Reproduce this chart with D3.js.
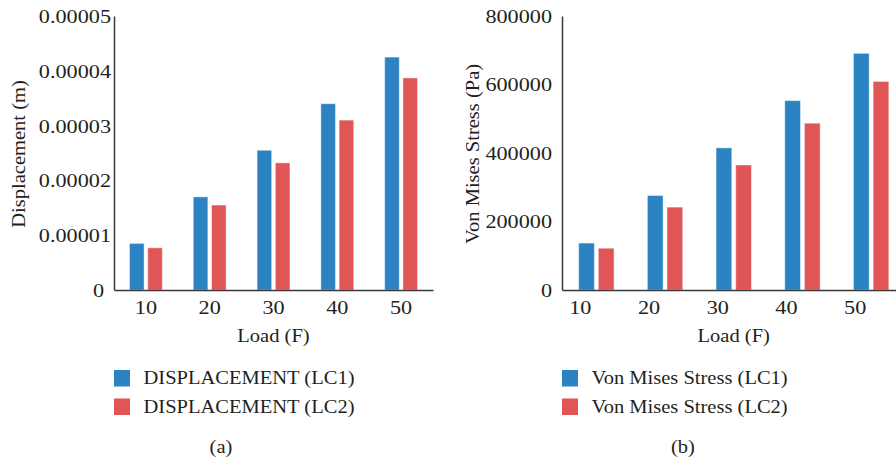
<!DOCTYPE html>
<html>
<head>
<meta charset="utf-8">
<script src="https://cdn.jsdelivr.net/npm/d3@7"></script>
<style>
  body { margin: 0; background: #fff; }
  text { font-family: "Liberation Serif", "Times New Roman", serif; fill: #231f20; }
</style>
</head>
<body>
<div id="chart"></div>
<script>
// data
const loads = [10, 20, 30, 40, 50];
const dispLC1 = [0.0000085, 0.0000170, 0.0000255, 0.0000340, 0.0000425];
const dispLC2 = [0.0000077, 0.0000155, 0.0000232, 0.0000310, 0.0000387];
const stressLC1 = [137000, 276000, 415000, 553000, 691000];
const stressLC2 = [122000, 242000, 365000, 487000, 609000];
const dispTicks = [0, 0.00001, 0.00002, 0.00003, 0.00004, 0.00005];
const dispTickLabels = ["0", "0.00001", "0.00002", "0.00003", "0.00004", "0.00005"];
const stressTicks = [0, 200000, 400000, 600000, 800000];
const stressTickLabels = ["0", "200000", "400000", "600000", "800000"];
const seriesNames = ["LC1", "LC2"];

const colors = ["#2b83c3", "#e05656"];
const fontSize = 19;
const wordStretch = 1.08;   // serif text in the figure is a bit wider than Times
const digitStretch = 1.17;

const W = 896, H = 462;
const svg = d3.select("#chart").append("svg")
    .attr("width", W)
    .attr("height", H);

function drawPanel(p) {
    const g = svg.append("g");

    const xScale = d3.scaleBand()
        .domain(loads)
        .range([p.left, p.right]);

    const yScale = d3.scaleLinear()
        .domain([0, p.yMax])
        .range([290, 16]);

    const pairW = xScale.step() * 0.515;
    const xInner = d3.scaleBand()
        .domain(seriesNames)
        .range([(xScale.step() - pairW) / 2, (xScale.step() + pairW) / 2])
        .paddingInner(0.2);

    // bars
    const rows = loads.map((l, i) => ({load: l, values: [p.s1[i], p.s2[i]]}));
    g.append("g")
        .selectAll("g")
        .data(rows)
        .enter()
        .append("g")
            .attr("transform", d => `translate(${xScale(d.load)},0)`)
        .selectAll("rect")
        .data(d => d.values.map((v, k) => ({k: k, v: v})))
        .enter()
        .append("rect")
            .attr("x", d => xInner(seriesNames[d.k]))
            .attr("width", xInner.bandwidth())
            .attr("y", d => yScale(d.v))
            .attr("height", d => yScale(0) - yScale(d.v))
            .style("fill", d => colors[d.k])
            .style("stroke", "#ffffff")
            .style("stroke-opacity", 0.45)
            .style("stroke-width", 1);

    // y axis
    const yAxis = g.append("g")
        .attr("transform", `translate(${p.left},0)`)
        .call(d3.axisLeft(yScale)
            .tickValues(p.ticks)
            .tickSize(0)
            .tickPadding(0)
            .tickFormat((d, i) => p.tickLabels[i]));
    yAxis.select(".domain").attr("stroke", "#3a3a3a").attr("stroke-width", 1.5);
    yAxis.selectAll("text")
        .attr("x", 0)
        .attr("dy", "0.34em")
        .style("font-size", fontSize + "px")
        .style("font-family", "Liberation Serif")
        .attr("fill", "#231f20")
        .attr("transform", d => `translate(${-p.tickGap - (d === 0 ? p.zeroShift : 0)},0) scale(${digitStretch},1)`);

    // x axis
    const xAxis = g.append("g")
        .attr("transform", "translate(0,290)")
        .call(d3.axisBottom(xScale).tickSize(0).tickPadding(0));
    xAxis.select(".domain").attr("stroke", "#3a3a3a").attr("stroke-width", 1.5);
    xAxis.selectAll("text")
        .attr("y", 0)
        .attr("dy", "0.34em")
        .style("font-size", fontSize + "px")
        .style("font-family", "Liberation Serif")
        .attr("fill", "#231f20")
        .attr("transform", `translate(${p.xLabelShift},17.5) scale(${digitStretch},1)`);

    // axis titles
    const midX = (p.left + p.right) / 2;
    g.append("text")
        .attr("text-anchor", "middle")
        .attr("dy", "0.34em")
        .style("font-size", fontSize + "px")
        .attr("transform", `translate(${midX},336) scale(${wordStretch},1)`)
        .text("Load (F)");

    g.append("text")
        .attr("text-anchor", "middle")
        .attr("dy", "0.34em")
        .style("font-size", fontSize + "px")
        .attr("transform", `translate(${p.yTitleX},154) rotate(-90) scale(${wordStretch},1)`)
        .text(p.yTitle);

    // legend
    const legendY = [378, 406.5];
    p.legend.forEach((name, k) => {
        g.append("rect")
            .attr("x", p.left)
            .attr("y", legendY[k] - 8)
            .attr("width", 16)
            .attr("height", 16.5)
            .style("fill", colors[k]);
        g.append("text")
            .attr("dy", "0.34em")
            .style("font-size", fontSize + "px")
            .attr("transform", `translate(${p.left + 29.5},${legendY[k]}) scale(${wordStretch},1)`)
            .text(name);
    });

    // panel letter
    g.append("text")
        .attr("text-anchor", "middle")
        .attr("dy", "0.34em")
        .style("font-size", fontSize + "px")
        .attr("transform", `translate(${p.letterX},446.5) scale(${wordStretch},1)`)
        .text(p.letter);
}

drawPanel({
    left: 114, right: 433, yMax: 0.00005,
    s1: dispLC1, s2: dispLC2,
    ticks: dispTicks, tickLabels: dispTickLabels,
    tickGap: 3, zeroShift: 7, xLabelShift: 0,
    yTitle: "Displacement (m)", yTitleX: 19,
    legend: ["DISPLACEMENT (LC1)", "DISPLACEMENT (LC2)"],
    letter: "(a)", letterX: 221
});

drawPanel({
    left: 562, right: 905.5, yMax: 800000,
    s1: stressLC1, s2: stressLC2,
    ticks: stressTicks, tickLabels: stressTickLabels,
    tickGap: 10, zeroShift: 0, xLabelShift: -16,
    yTitle: "Von Mises Stress (Pa)", yTitleX: 473,
    legend: ["Von Mises Stress (LC1)", "Von Mises Stress (LC2)"],
    letter: "(b)", letterX: 683
});
</script>
</body>
</html>
